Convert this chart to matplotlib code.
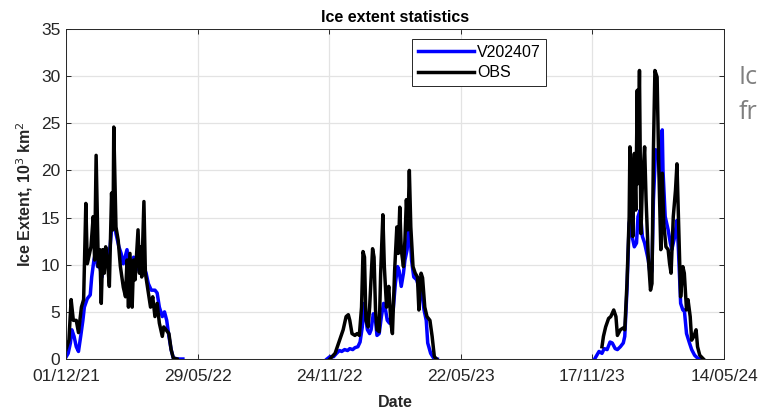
import numpy as np
import matplotlib
matplotlib.use("Agg")
import matplotlib.pyplot as plt

# dias desde 01/12/21
start = np.datetime64("2021-12-01")

# temporada 1
obs_d1 = [0, 4, 7, 10, 14, 17, 21, 24, 27, 29, 32, 34, 37, 39, 41, 44, 46, 48, 50, 52, 54, 57, 59, 62, 64, 65,
          68, 71, 74, 78, 81, 83, 85, 87, 90, 92, 94, 98, 100, 102, 103, 106, 108, 112, 115, 118, 121, 124, 127,
          131, 133, 136, 140, 143, 146, 151]
obs_v1 = [1.0, 2.0, 6.3, 4.1, 4.1, 2.8, 5.5, 6.3, 16.5, 10.1, 11.2, 11.9, 15.1, 10.5, 21.6, 9.8, 11.6, 5.9, 11.6,
          9.1, 11.9, 9.8, 7.7, 17.6, 13.7, 24.6, 14.0, 12.6, 9.8, 7.6, 6.6, 10.5, 5.5, 11.2, 5.5, 10.5, 8.4, 13.7,
          9.1, 11.9, 8.7, 16.7, 9.1, 7.0, 5.5, 6.6, 4.5, 5.9, 3.8, 2.4, 3.4, 3.1, 2.7, 1.0, 0.1, 0.0]
mod_d1 = [0, 3, 6, 8, 11, 14, 17, 20, 23, 25, 29, 33, 35, 38, 40, 43, 45, 49, 53, 56, 60, 63, 65, 68, 72, 75, 78,
          83, 87, 92, 97, 101, 106, 109, 112, 116, 121, 124, 127, 131, 134, 137, 140, 143, 146, 153, 159]
mod_v1 = [0.2, 0.6, 1.7, 3.1, 2.4, 1.3, 0.8, 2.4, 4.1, 5.5, 6.4, 6.8, 8.7, 10.5, 11.2, 9.8, 10.1, 8.7, 10.5, 10.1,
          11.9, 14.7, 15.4, 13.3, 11.9, 11.2, 10.1, 11.6, 9.4, 10.8, 9.8, 9.1, 9.8, 9.1, 8.0, 7.3, 7.3, 7.0, 5.5,
          4.5, 5.0, 4.1, 2.4, 1.0, 0.1, 0.0, 0.0]

# temporada 2
obs_d2 = [359, 366, 370, 374, 377, 381, 384, 386, 389, 393, 396, 399, 402, 404, 406, 408, 411, 413, 417, 419, 421,
          423, 426, 428, 431, 433, 436, 439, 442, 444, 447, 450, 452, 454, 456, 459, 461, 463, 465, 467, 469, 472,
          475, 478, 480, 483, 485, 488, 491, 495, 498, 501, 504]
obs_v2 = [0, 0.6, 1.5, 2.4, 3.1, 4.5, 4.7, 4.1, 2.7, 2.5, 2.7, 2.5, 5.5, 11.4, 10.8, 4.1, 3.4, 5.5, 11.7, 10.8,
          5.2, 3.1, 2.9, 9.1, 15.3, 9.8, 5.5, 7.7, 3.8, 2.7, 9.4, 14.0, 11.2, 16.1, 11.6, 9.8, 12.6, 16.9, 13.7,
          20.0, 14.0, 9.8, 9.1, 8.7, 5.2, 9.1, 8.6, 5.5, 4.5, 4.1, 2.4, 0.25, 0]
mod_d2 = [355, 359, 364, 368, 372, 375, 379, 383, 386, 390, 393, 397, 400, 403, 404, 407, 410, 413, 415, 418, 421,
          423, 426, 429, 432, 434, 437, 440, 442, 445, 448, 451, 453, 456, 459, 461, 464, 467, 470, 473, 477, 481,
          484, 487, 490, 492, 496, 500, 505]
mod_v2 = [0, 0.25, 0.25, 0.6, 0.9, 0.8, 1.0, 0.9, 1.1, 1.0, 1.2, 1.3, 1.8, 3.4, 5.9, 4.5, 3.1, 2.7, 3.1, 4.8, 4.1,
          2.5, 2.7, 4.5, 5.9, 5.5, 4.1, 3.8, 4.5, 5.2, 8.0, 9.8, 9.4, 7.7, 9.1, 10.5, 11.6, 14.7, 10.5, 8.7, 8.4,
          7.3, 7.0, 5.2, 4.1, 1.7, 0.6, 0.1, 0]

# temporada 3
obs_d3 = [729, 731, 734, 738, 741, 745, 748, 750, 754, 758, 760, 763, 766, 767, 769, 771, 773, 775, 777, 778, 780,
          782, 784, 787, 789, 792, 795, 797, 799, 801, 804, 806, 809, 811, 813, 816, 819, 821, 823, 826, 829, 831,
          833, 836, 839, 841, 844, 846, 849, 851, 854, 857, 859, 862, 867]
obs_v3 = [1.3, 2.4, 3.4, 4.3, 4.5, 5.2, 4.5, 2.5, 3.1, 3.3, 3.1, 8.0, 15.1, 22.5, 19.3, 13.0, 21.8, 15.8, 28.5,
          18.6, 30.6, 13.3, 18.6, 22.5, 16.9, 10.8, 7.3, 8.0, 22.2, 30.6, 29.9, 21.4, 11.6, 19.7, 14.4, 11.9, 11.6,
          10.1, 9.1, 15.1, 17.9, 20.7, 15.1, 6.6, 9.8, 9.1, 5.2, 6.3, 4.5, 2.0, 2.4, 3.1, 1.3, 0.4, 0]
mod_d3 = [719, 722, 725, 729, 732, 736, 740, 743, 747, 750, 754, 758, 760, 763, 766, 768, 770, 773, 776, 778, 781,
          784, 787, 789, 792, 795, 797, 799, 802, 806, 808, 811, 812, 815, 819, 822, 824, 828, 831, 833, 836, 839,
          841, 844, 848, 851, 855, 859, 862]
mod_v3 = [0, 0.4, 0.8, 0.6, 1.1, 1.0, 1.8, 1.7, 1.1, 1.0, 1.3, 1.7, 2.4, 7.3, 14.4, 15.1, 13.0, 11.9, 12.3, 15.1,
          15.8, 13.0, 12.3, 11.6, 10.5, 8.7, 9.4, 16.9, 22.2, 21.4, 18.6, 24.3, 20.0, 15.1, 13.7, 12.3, 11.6, 13.0,
          14.7, 11.6, 5.9, 5.2, 5.2, 2.7, 1.7, 1.0, 0.4, 0.1, 0]

tick_labels = ["01/12/21", "29/05/22", "24/11/22", "22/05/23", "17/11/23", "14/05/24"]


def junta(ds, vs):
    # junta temporadas com NaN no meio pra não ligar as linhas
    x, y = [], []
    for d, v in zip(ds, vs):
        x += list(start + np.array(d).astype("timedelta64[D]"))
        y += list(v)
        x.append(x[-1] + np.timedelta64(1, "D"))
        y.append(np.nan)
    return np.array(x), np.array(y)


x_mod, y_mod = junta([mod_d1, mod_d2, mod_d3], [mod_v1, mod_v2, mod_v3])
x_obs, y_obs = junta([obs_d1, obs_d2, obs_d3], [obs_v1, obs_v2, obs_v3])

plt.rcParams['font.family'] = ['Liberation Sans', 'DejaVu Sans']
cinza = "#262626"

fig = plt.figure(figsize=(7.61, 4.11), dpi=100)
ax = fig.add_axes([0.0867, 0.1265, 0.8647, 0.8029])

ax.plot(x_mod, y_mod, color="#0000ff", lw=2.5, label="V202407")
ax.plot(x_obs, y_obs, color="black", lw=2.5, label="OBS")

ticks = [np.datetime64("2021-12-01") + np.timedelta64(179 * k, "D") for k in range(6)]
ax.set_xticks(ticks)
ax.set_xticklabels(tick_labels)
ax.set_xlim(ticks[0], ticks[-1])
ax.set_ylim(0, 35)
ax.set_yticks(np.arange(0, 36, 5))

ax.grid(True, color="#e3e3e3", lw=0.9)
ax.set_axisbelow(True)
ax.tick_params(direction="in", length=3.5, width=0.7, color=cinza, labelcolor=cinza,
               labelsize=12.5, top=True, right=True)
ax.tick_params(axis="x", pad=7)
ax.tick_params(axis="y", pad=4)
for s in ax.spines.values():
    s.set_color(cinza)
    s.set_linewidth(0.7)

ax.set_title("Ice extent statistics", fontsize=11.5, fontweight="bold", pad=5)
ax.set_xlabel("Date", fontsize=11.5, fontweight="bold", color=cinza, labelpad=8)
ax.set_ylabel("Ice Extent, 10$^3$ km$^2$", fontsize=11.5, fontweight="bold", color=cinza, labelpad=4)

leg = ax.legend(loc="upper left", bbox_to_anchor=(0.526, 0.97), fontsize=11.5, handlelength=3.5,
                handletextpad=0.2, labelspacing=0.35, borderpad=0.35, borderaxespad=0,
                fancybox=False, framealpha=1)
leg.get_frame().set_edgecolor(cinza)
leg.get_frame().set_linewidth(0.7)

# texto do slide cortado à direita
fig.text(0.971, 0.795, "Ic", fontsize=18, color="#7f7f7f", family="Open Sans")
fig.text(0.971, 0.71, "fr", fontsize=18, color="#7f7f7f", family="Open Sans")

fig.savefig("out.png", dpi=100)
